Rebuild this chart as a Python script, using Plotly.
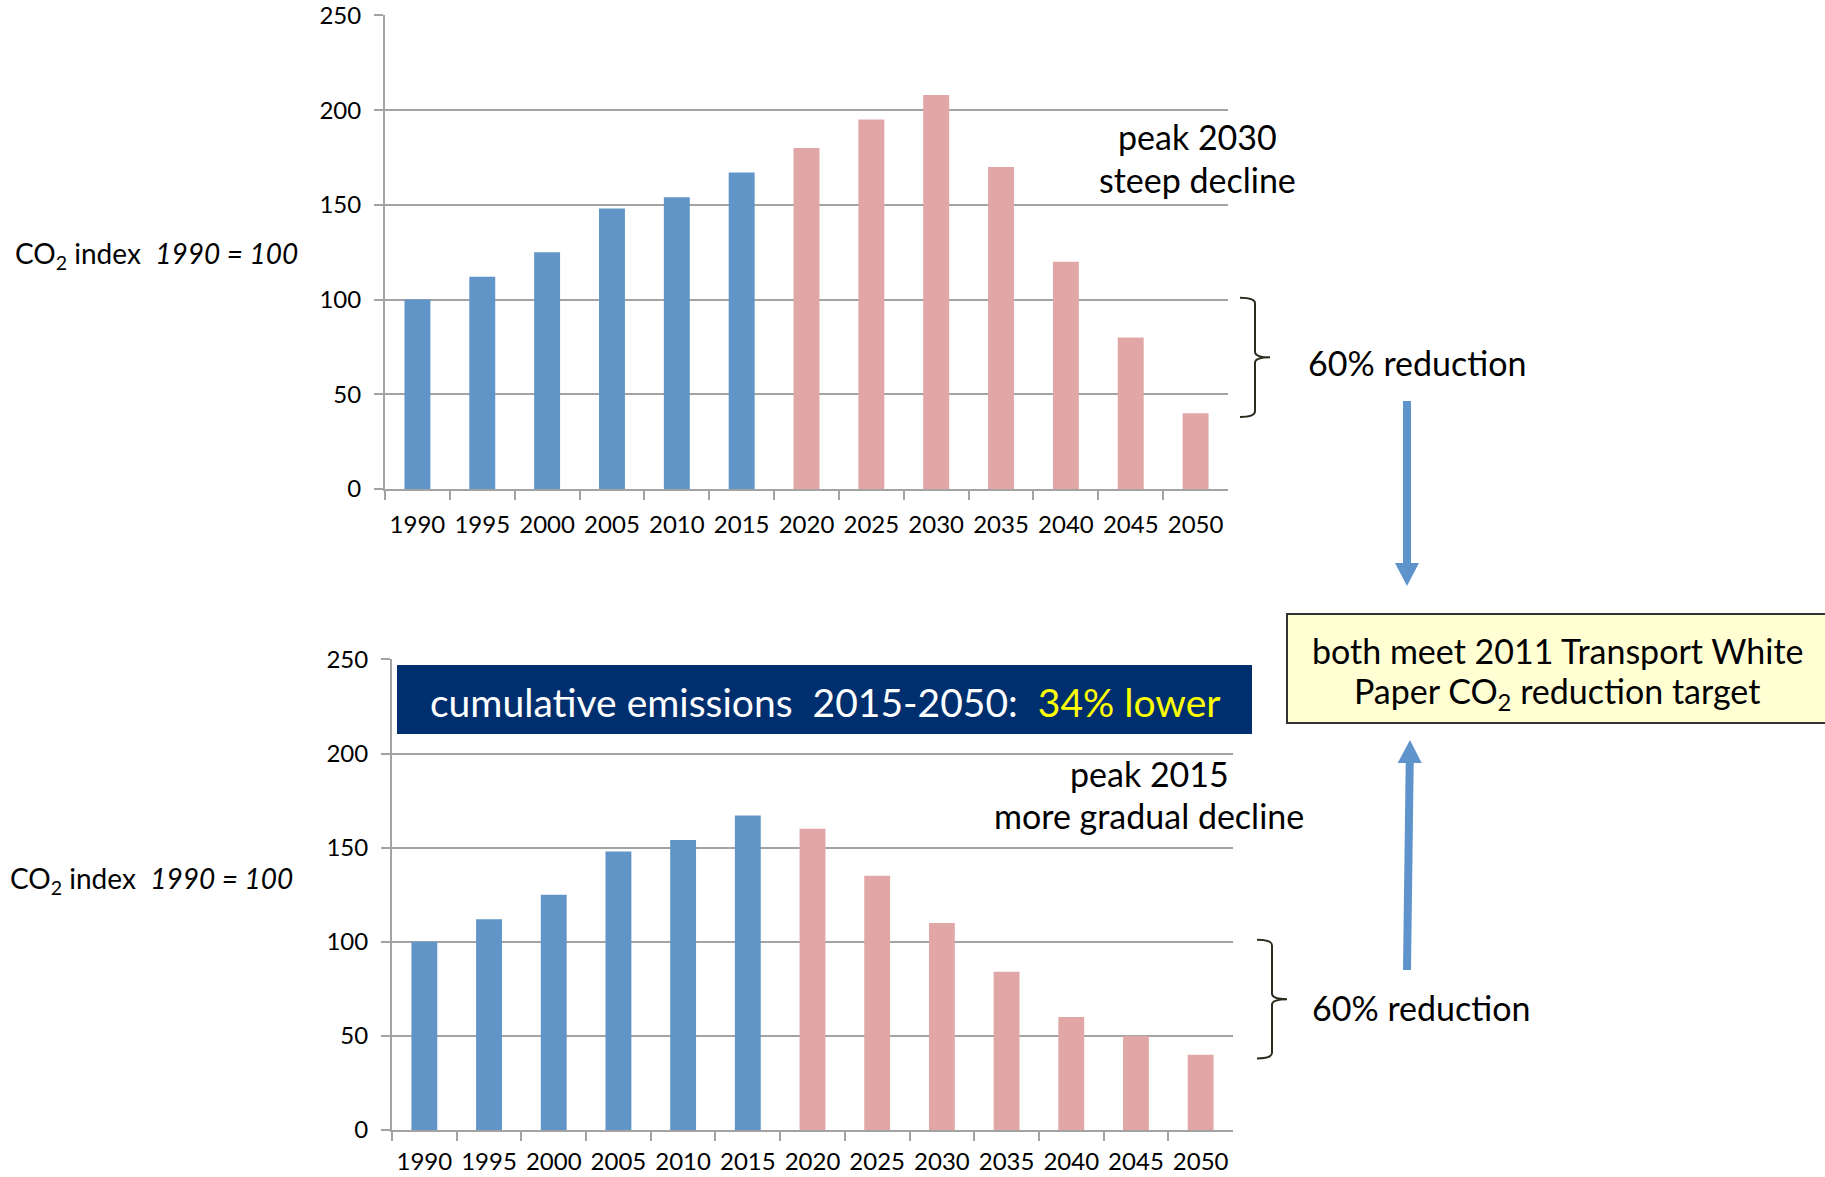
import plotly.graph_objects as go

# CO2 index (1990 = 100), two transport pathways to 2050
years = ["1990", "1995", "2000", "2005", "2010", "2015", "2020",
         "2025", "2030", "2035", "2040", "2045", "2050"]
late_peak = [100, 112, 125, 148, 154, 167, 180, 195, 208, 170, 120, 80, 40]
early_peak = [100, 112, 125, 148, 154, 167, 160, 135, 110, 84, 60, 50, 40]
last_historical_year = 2015
y_ticks = [0, 50, 100, 150, 200, 250]

HIST_COLOR = "#6195C8"
PROJ_COLOR = "#E1A7A6"
GRID_COLOR = "#A3A3A3"
FONT = "Lato"

W, H = 1825, 1177


def px(x):
    return x / W


def py(y):
    return 1 - y / H


bar_colors = [HIST_COLOR if int(y) <= last_historical_year else PROJ_COLOR for y in years]

fig = go.Figure()
fig.add_trace(go.Bar(x=years, y=late_peak, marker=dict(color=bar_colors, line=dict(width=0)),
                     xaxis="x", yaxis="y", showlegend=False, hoverinfo="x+y"))
fig.add_trace(go.Bar(x=years, y=early_peak, marker=dict(color=bar_colors, line=dict(width=0)),
                     xaxis="x2", yaxis="y2", showlegend=False, hoverinfo="x+y"))

xcommon = dict(type="category", showline=True, linecolor=GRID_COLOR, linewidth=2,
               ticks="outside", tickson="boundaries", ticklen=9, tickwidth=2,
               tickcolor=GRID_COLOR, showgrid=False, zeroline=False, automargin=False,
               tickangle=0, ticklabeloverflow="allow",
               tickfont=dict(family=FONT, size=24, color="#000"),
               fixedrange=True)
ycommon = dict(range=[0, 250.2], tickvals=y_ticks, showline=True, linecolor=GRID_COLOR,
               linewidth=2, ticks="outside", ticklen=9, tickwidth=2, tickcolor=GRID_COLOR,
               showgrid=True, gridcolor=GRID_COLOR, gridwidth=2, zeroline=False,
               automargin=False, ticklabeloverflow="allow",
               tickfont=dict(family=FONT, size=24, color="#000"), ticklabelstandoff=8,
               fixedrange=True)

fig.update_layout(
    width=W, height=H,
    margin=dict(l=0, r=0, t=0, b=0, autoexpand=False),
    paper_bgcolor="white", plot_bgcolor="white",
    bargap=0.6,
    xaxis=dict(domain=[px(385), px(1228)], anchor="y", ticklabelstandoff=13, **xcommon),
    yaxis=dict(domain=[py(489), py(15)], anchor="x", **ycommon),
    xaxis2=dict(domain=[px(392), px(1233)], anchor="y2", ticklabelstandoff=9, **xcommon),
    yaxis2=dict(domain=[py(1130), py(659)], anchor="x2", **ycommon),
    font=dict(family=FONT, color="#000"),
)

shapes = []
annotations = []


def text(x, y, s, size, xanchor="center", color="#000"):
    annotations.append(dict(x=px(x), y=py(y), xref="paper", yref="paper", text=s,
                            showarrow=False, xanchor=xanchor, yanchor="middle",
                            font=dict(family=FONT, size=size, color=color)))


# axis titles
axis_title = "CO<sub>2</sub> index\u00a0\u00a0<i>1990 = 100</i>"
text(13, 255, axis_title, 28, xanchor="left")
text(8, 880, axis_title, 28, xanchor="left")

# scenario notes
text(1197, 137, "peak 2030", 34)
text(1197, 179, "steep decline", 34)
text(1149, 773, "peak 2015", 34)
text(1149, 815, "more gradual decline", 34)


def brace(yref, x0, x1, x2, y_top, y_bot, d):
    ym = (y_top + y_bot) / 2
    X0, X1, X2 = px(x0), px(x1), px(x2)
    path = (f"M {X0},{y_top} Q {X1},{y_top} {X1},{y_top - d} "
            f"L {X1},{ym + d} Q {X1},{ym} {X2},{ym} "
            f"Q {X1},{ym} {X1},{ym - d} "
            f"L {X1},{y_bot + d} Q {X1},{y_bot} {X0},{y_bot}")
    shapes.append(dict(type="path", path=path, xref="paper", yref=yref,
                       line=dict(color="#2B2B1E", width=2)))


# 60% cut from the 1990 level down to the 2050 value
brace("y", 1240, 1255, 1270, 101, late_peak[-1] - 2, 3)
brace("y2", 1257, 1272, 1287, 101, early_peak[-1] - 2, 3)
text(1306, 363, "60% reduction", 34, xanchor="left")
text(1310, 1007, "60% reduction", 34, xanchor="left")

# cumulative emissions banner
shapes.append(dict(type="rect", xref="paper", yref="paper",
                   x0=px(397), x1=px(1252), y0=py(734), y1=py(665),
                   fillcolor="#002F6F", line=dict(width=0), layer="above"))
text(825, 702, "cumulative emissions\u00a0\u00a02015-2050:\u00a0\u00a0"
     "<span style='color:#FFFF00'>34% lower</span>", 39, color="#FFFFFF")

# target box
shapes.append(dict(type="rect", xref="paper", yref="paper",
                   x0=px(1287), x1=px(1830), y0=py(723), y1=py(614),
                   fillcolor="#FFFFD3", line=dict(color="#333333", width=2)))
text(1558, 650, "both meet 2011 Transport White", 34)
text(1557, 693, "Paper CO<sub>2</sub> reduction target", 34)

# arrows into the target box
ARROW = "#5F93CB"


def arrow(xs, ys, xe, ye, head_len, head_w, shaft_w):
    # shaft stops where the head begins
    sgn = 1 if ye > ys else -1
    hb = ye - sgn * head_len
    xb = xs + (xe - xs) * (hb - ys) / (ye - ys)
    shapes.append(dict(type="line", xref="paper", yref="paper",
                       x0=px(xs), y0=py(ys), x1=px(xb), y1=py(hb),
                       line=dict(color=ARROW, width=shaft_w)))
    path = (f"M {px(xb - head_w / 2)},{py(hb)} L {px(xb + head_w / 2)},{py(hb)} "
            f"L {px(xe)},{py(ye)} Z")
    shapes.append(dict(type="path", path=path, xref="paper", yref="paper",
                       fillcolor=ARROW, line=dict(color=ARROW, width=0)))


arrow(1407, 401, 1407, 586, 23, 24, 8)
arrow(1407, 970, 1410, 740, 23, 24, 8)

fig.update_layout(shapes=shapes, annotations=annotations)
fig.write_html("out.html")
